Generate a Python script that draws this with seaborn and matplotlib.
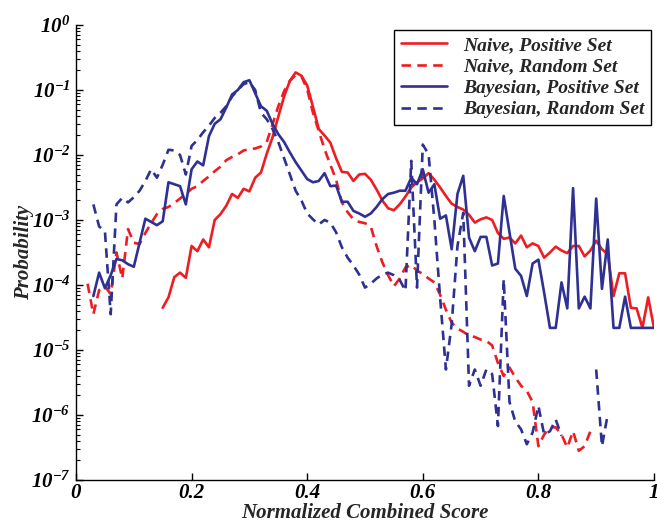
import numpy as np
import pandas as pd
import matplotlib
matplotlib.use("Agg")
import matplotlib.pyplot as plt
import seaborn as sns
from matplotlib.ticker import FixedLocator, LogLocator, FuncFormatter, NullFormatter

nan = np.nan

# x grid of the histogram (bin centres, step 0.01)
score = np.round(np.arange(0, 101) / 100, 2)

# log10(probability), nan = empty bin
naive_pos_log10 = [
    nan, nan, nan, nan, nan, nan, nan, nan, nan, -4.18,
    nan, nan, -4.36, nan, nan, -4.35, -4.19, -3.88, -3.81, -3.89,
    -3.40, -3.48, -3.30, -3.42, -3.00, -2.91, -2.78, -2.60, -2.66, -2.52,
    -2.56, -2.35, -2.27, -1.98, -1.73, -1.41, -1.10, -0.86, -0.73, -0.78,
    -0.93, -1.26, -1.60, -1.70, -1.81, -2.05, -2.26, -2.27, -2.40, -2.30,
    -2.29, -2.38, -2.53, -2.70, -2.82, -2.85, -2.76, -2.64, -2.50, -2.42,
    -2.36, -2.28, -2.38, -2.50, -2.63, -2.75, -2.80, -2.84, -2.92, -3.04,
    -2.99, -2.96, -3.00, -3.20, -3.29, -3.27, -3.36, -3.24, -3.42, -3.36,
    -3.40, -3.58, -3.50, -3.41, -3.47, -3.51, -3.40, -3.40, -3.56, -3.47,
    -3.32, -3.45, -3.53, -4.17, -3.82, -3.82, -4.35, -4.36, -4.66, -4.19, -4.66,
]
naive_rand_log10 = [
    -4.47, nan, -3.98, -4.45, -4.08, -4.02, -4.14, -3.50, -3.90, -3.14,
    -3.35, -3.37, -3.20, -3.05, -2.91, -2.83, -2.80, -2.74, -2.67, -2.60,
    -2.52, -2.48, -2.40, -2.33, -2.25, -2.18, -2.08, -2.03, -1.99, -1.93,
    -1.91, -1.90, -1.87, -1.80, -1.53, -1.25, -1.02, -0.86, -0.77, -0.79,
    -0.99, -1.35, -1.63, -1.91, -2.15, -2.38, -2.73, -2.88, -2.99, -3.03,
    -3.05, -3.10, -3.40, -3.65, -3.85, -4.02, -3.90, -3.73, -3.69, -3.78,
    -3.83, -3.90, -3.96, -4.15, -4.38, -4.58, -4.67, -4.72, -4.78, -4.80,
    -4.84, -4.86, -4.93, -5.20, -5.40, -5.27, -5.42, -5.55, -5.63, -5.80,
    -6.48, -6.30, -6.19, -6.19, -6.30, -6.50, -6.25, -6.55, -6.48, -6.25,
    nan, nan, nan, nan, nan, nan, nan, nan, nan, nan, nan,
]
bayes_pos_log10 = [
    -4.66, nan, nan, -4.17, -3.81, -4.05, -3.85, -3.60, -3.62, -3.68,
    -3.72, -3.35, -2.98, -3.03, -3.08, -3.02, -2.42, -2.45, -2.48, -2.76,
    -2.22, -2.10, -2.16, -1.71, -1.52, -1.45, -1.27, -1.07, -1.00, -0.88,
    -0.85, -1.05, -1.25, -1.32, -1.52, -1.68, -1.80, -1.96, -2.11, -2.24,
    -2.37, -2.42, -2.40, -2.28, -2.48, -2.47, -2.72, -2.72, -2.86, -2.90,
    -2.95, -2.90, -2.80, -2.68, -2.60, -2.58, -2.55, -2.55, -2.35, -2.45,
    -2.22, -2.58, -2.45, -2.98, -2.93, -3.45, -2.60, -2.32, -3.27, -3.48,
    -3.26, -3.26, -3.70, -3.67, -2.63, -3.19, -3.75, -3.86, -4.17, -3.67,
    -3.61, -4.12, -4.66, -4.66, -3.96, -4.36, -2.51, -4.36, -4.18, -4.36,
    -2.67, -4.06, -3.30, -4.66, -4.66, -4.18, -4.66, -4.66, -4.66, -4.66, -4.66,
]
bayes_rand_log10 = [
    nan, nan, nan, -2.76, -3.10, -3.17, -4.45, -2.76, -2.66, -2.73,
    -2.65, -2.55, -2.40, -2.22, -2.35, -2.15, -1.92, -1.93, -2.00, -2.30,
    -1.86, -1.77, -1.65, -1.55, -1.43, -1.35, -1.25, -1.10, -1.00, -0.91,
    -0.88, -1.00, -1.35, -1.45, -1.60, -1.80, -2.05, -2.30, -2.55, -2.70,
    -2.90, -2.99, -3.07, -3.00, -3.04, -3.19, -3.42, -3.58, -3.70, -3.84,
    -4.04, -3.98, -3.90, -3.84, -3.81, -3.85, -3.92, -4.09, -2.09, -4.04,
    -1.84, -1.99, -3.00, -4.20, -5.30, -4.60, -3.40, -2.89, -5.55, -5.30,
    -5.55, -5.30, -5.37, -6.17, -3.91, -5.80, -6.10, -6.22, -6.45, -6.27,
    -5.86, -6.30, -6.25, -6.07, -6.32, nan, nan, nan, nan, nan,
    -5.30, -6.48, -5.99, nan, nan, nan, nan, nan, nan, nan, nan,
]

series_names = ["Naive, Positive Set", "Naive, Random Set",
                "Bayesian, Positive Set", "Bayesian, Random Set"]
series_values = [naive_pos_log10, naive_rand_log10, bayes_pos_log10, bayes_rand_log10]

RED = "#EE1D23"
BLUE = "#2E3192"
palette = {series_names[0]: RED, series_names[1]: RED,
           series_names[2]: BLUE, series_names[3]: BLUE}
dashes = {series_names[0]: "", series_names[1]: (3.6, 2.4),
          series_names[2]: "", series_names[3]: (3.6, 2.4)}

# long-form table; empty bins split a series into separate segments
frames = []
for name, vals in zip(series_names, series_values):
    d = pd.DataFrame({"score": score, "logp": np.array(vals, dtype=float)})
    d["segment"] = d["logp"].isna().cumsum()
    d = d.dropna()
    d["prob"] = 10 ** d["logp"]
    d["series"] = name
    frames.append(d)
df = pd.concat(frames, ignore_index=True)

sns.set_style("ticks")
serif = "Liberation Serif"
plt.rcParams["font.family"] = [serif, "DejaVu Serif"]
plt.rcParams["font.weight"] = "bold"
plt.rcParams["font.style"] = "italic"

fig = plt.figure(figsize=(6.57, 5.27), dpi=100)
ax = fig.add_axes([0.1157, 0.0892, 0.8797, 0.8634])
ax.set_yscale("log")

sns.lineplot(data=df, x="score", y="prob", hue="series", style="series",
             units="segment", estimator=None, sort=False,
             hue_order=series_names, style_order=series_names,
             palette=palette, dashes=dashes, linewidth=1.9, ax=ax)

ax.set_xlim(0, 1)
ax.set_ylim(1e-7, 1)
sns.despine(ax=ax)
for s in ["left", "bottom"]:
    ax.spines[s].set_color("black")
    ax.spines[s].set_linewidth(1.0)

ax.xaxis.set_major_locator(FixedLocator([0, 0.2, 0.4, 0.6, 0.8, 1.0]))
ax.xaxis.set_major_formatter(FuncFormatter(lambda v, p: f"{v:g}"))
ax.yaxis.set_major_locator(LogLocator(base=10, numticks=20))
ax.yaxis.set_minor_locator(LogLocator(base=10, subs=np.arange(2, 10), numticks=20))
ax.yaxis.set_minor_formatter(NullFormatter())
ax.yaxis.set_major_formatter(FuncFormatter(
    lambda v, p: r"$\mathdefault{10^{%d}}$" % int(round(np.log10(v)))))
ax.tick_params(axis="both", which="major", direction="in", length=5, width=1,
               colors="black", labelsize=15, pad=4)
ax.tick_params(axis="x", which="major", pad=2)
ax.tick_params(axis="y", which="minor", direction="in", length=3, width=0.8,
               colors="black")
for lab in ax.get_xticklabels() + ax.get_yticklabels():
    lab.set_fontweight("bold")
    lab.set_fontstyle("italic")

ax.set_xlabel("Normalized Combined Score", fontsize=15, fontweight="bold",
              fontstyle="italic", labelpad=0)
ax.set_ylabel("Probability", fontsize=15, fontweight="bold",
              fontstyle="italic", labelpad=-2)
ax.grid(False)

leg = ax.legend(loc="upper right", bbox_to_anchor=(0.995, 0.99), borderaxespad=0,
                fancybox=False, framealpha=1, edgecolor="black",
                prop={"family": serif, "weight": "bold", "style": "italic", "size": 14},
                handlelength=2.4, handletextpad=0.8, labelspacing=0.2,
                borderpad=0.35)
leg.get_frame().set_linewidth(1.0)

fig.savefig("out.png", dpi=100)
